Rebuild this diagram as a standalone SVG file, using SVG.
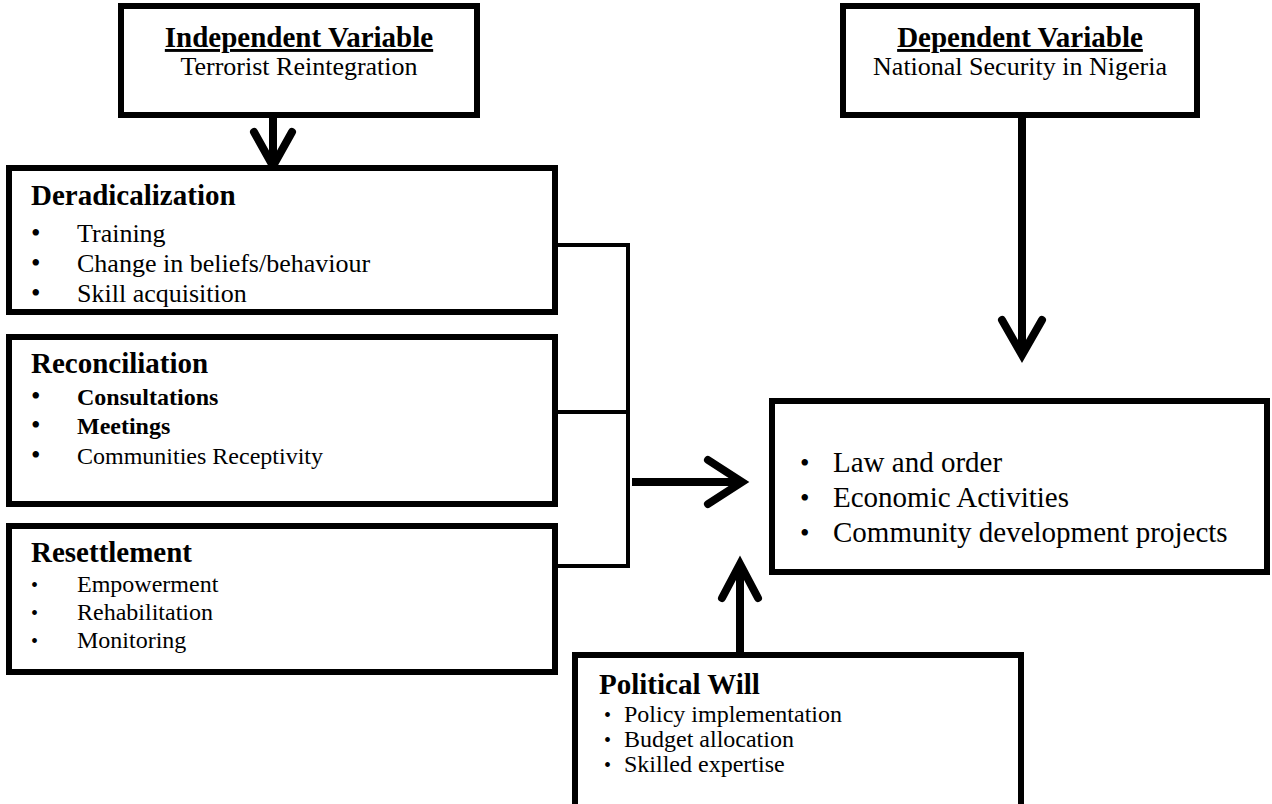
<svg xmlns="http://www.w3.org/2000/svg" width="1272" height="804" viewBox="0 0 1272 804">
<style>
.box{fill:#fff;stroke:#000;stroke-width:6}
.edge{fill:none;stroke:#000;stroke-width:6}
.t{font-family:"Liberation Serif","Times New Roman",serif;fill:#000}
.h{font-weight:bold;font-size:29px}
.sub{font-size:26px}
.i{font-size:26px}
.r{font-size:24px}
.s{font-size:24px}
.o{font-size:29px}
.bb{font-size:27px}
.sb{font-size:20px}
.conn{fill:none;stroke:#000;stroke-width:4}
.arr{fill:none;stroke:#000;stroke-width:8;stroke-linecap:round;stroke-linejoin:miter}
.shaft{fill:none;stroke:#000;stroke-width:8}
</style>
<rect width="1272" height="804" fill="#fff"/>
<g id="connectors">
<polyline class="conn" points="555,245 628,245 628,566 555,566"/>
<line class="conn" x1="555" y1="412" x2="628" y2="412"/>
<line class="shaft" x1="273" y1="118" x2="273" y2="164"/>
<polyline class="arr" points="254,132 273,166 292,132"/>
<line class="shaft" x1="1022" y1="118" x2="1022" y2="352"/>
<polyline class="arr" points="1002,320 1022,355 1042,320"/>
<line class="shaft" x1="632" y1="482" x2="738" y2="482"/>
<polyline class="arr" points="708,460 742,482 708,504"/>
<line class="shaft" x1="740" y1="655" x2="740" y2="566"/>
<polyline class="arr" points="722,598 740,564 758,598"/>
</g>
<g id="independent">
<rect class="box" x="121" y="6" width="356" height="109"/>
<text class="t h" x="299" y="47" text-anchor="middle" text-decoration="underline">Independent Variable</text>
<text class="t sub" x="299" y="75" text-anchor="middle">Terrorist Reintegration</text>
</g>
<g id="dependent">
<rect class="box" x="843" y="6" width="354" height="109"/>
<text class="t h" x="1020" y="47" text-anchor="middle" text-decoration="underline">Dependent Variable</text>
<text class="t sub" x="1020" y="75" text-anchor="middle">National Security in Nigeria</text>
</g>
<g id="deradicalization">
<rect x="9" y="168" width="546" height="144" fill="#fff"/>
<text class="t h" x="31" y="205">Deradicalization</text>
<text class="t bb" x="31" y="242">•</text><text class="t i" x="77" y="242">Training</text>
<text class="t bb" x="31" y="272">•</text><text class="t i" x="77" y="272">Change in beliefs/behaviour</text>
<text class="t bb" x="31" y="302">•</text><text class="t i" x="77" y="302">Skill acquisition</text>
<rect class="edge" x="9" y="168" width="546" height="144"/>
</g>
<g id="reconciliation">
<rect class="box" x="9" y="337" width="546" height="167"/>
<text class="t h" x="31" y="373">Reconciliation</text>
<text class="t bb" x="31" y="405">•</text><text class="t r" x="77" y="405" font-weight="bold">Consultations</text>
<text class="t bb" x="31" y="434">•</text><text class="t r" x="77" y="434" font-weight="bold">Meetings</text>
<text class="t bb" x="31" y="464">•</text><text class="t r" x="77" y="464">Communities Receptivity</text>
</g>
<g id="resettlement">
<rect class="box" x="9" y="526" width="546" height="146"/>
<text class="t h" x="31" y="562">Resettlement</text>
<text class="t sb" x="31" y="592">•</text><text class="t s" x="77" y="592">Empowerment</text>
<text class="t sb" x="31" y="620">•</text><text class="t s" x="77" y="620">Rehabilitation</text>
<text class="t sb" x="31" y="648">•</text><text class="t s" x="77" y="648">Monitoring</text>
</g>
<g id="outcome">
<rect class="box" x="772" y="401" width="495" height="171"/>
<text class="t bb" x="800" y="472">•</text><text class="t o" x="833" y="472">Law and order</text>
<text class="t bb" x="800" y="507">•</text><text class="t o" x="833" y="507">Economic Activities</text>
<text class="t bb" x="800" y="542">•</text><text class="t o" x="833" y="542">Community development projects</text>
</g>
<g id="political">
<rect class="box" x="575" y="655" width="446" height="165"/>
<text class="t h" x="599" y="694">Political Will</text>
<text class="t sb" x="604" y="722">•</text><text class="t s" x="624" y="722">Policy implementation</text>
<text class="t sb" x="604" y="747">•</text><text class="t s" x="624" y="747">Budget allocation</text>
<text class="t sb" x="604" y="772">•</text><text class="t s" x="624" y="772">Skilled expertise</text>
</g>
</svg>
